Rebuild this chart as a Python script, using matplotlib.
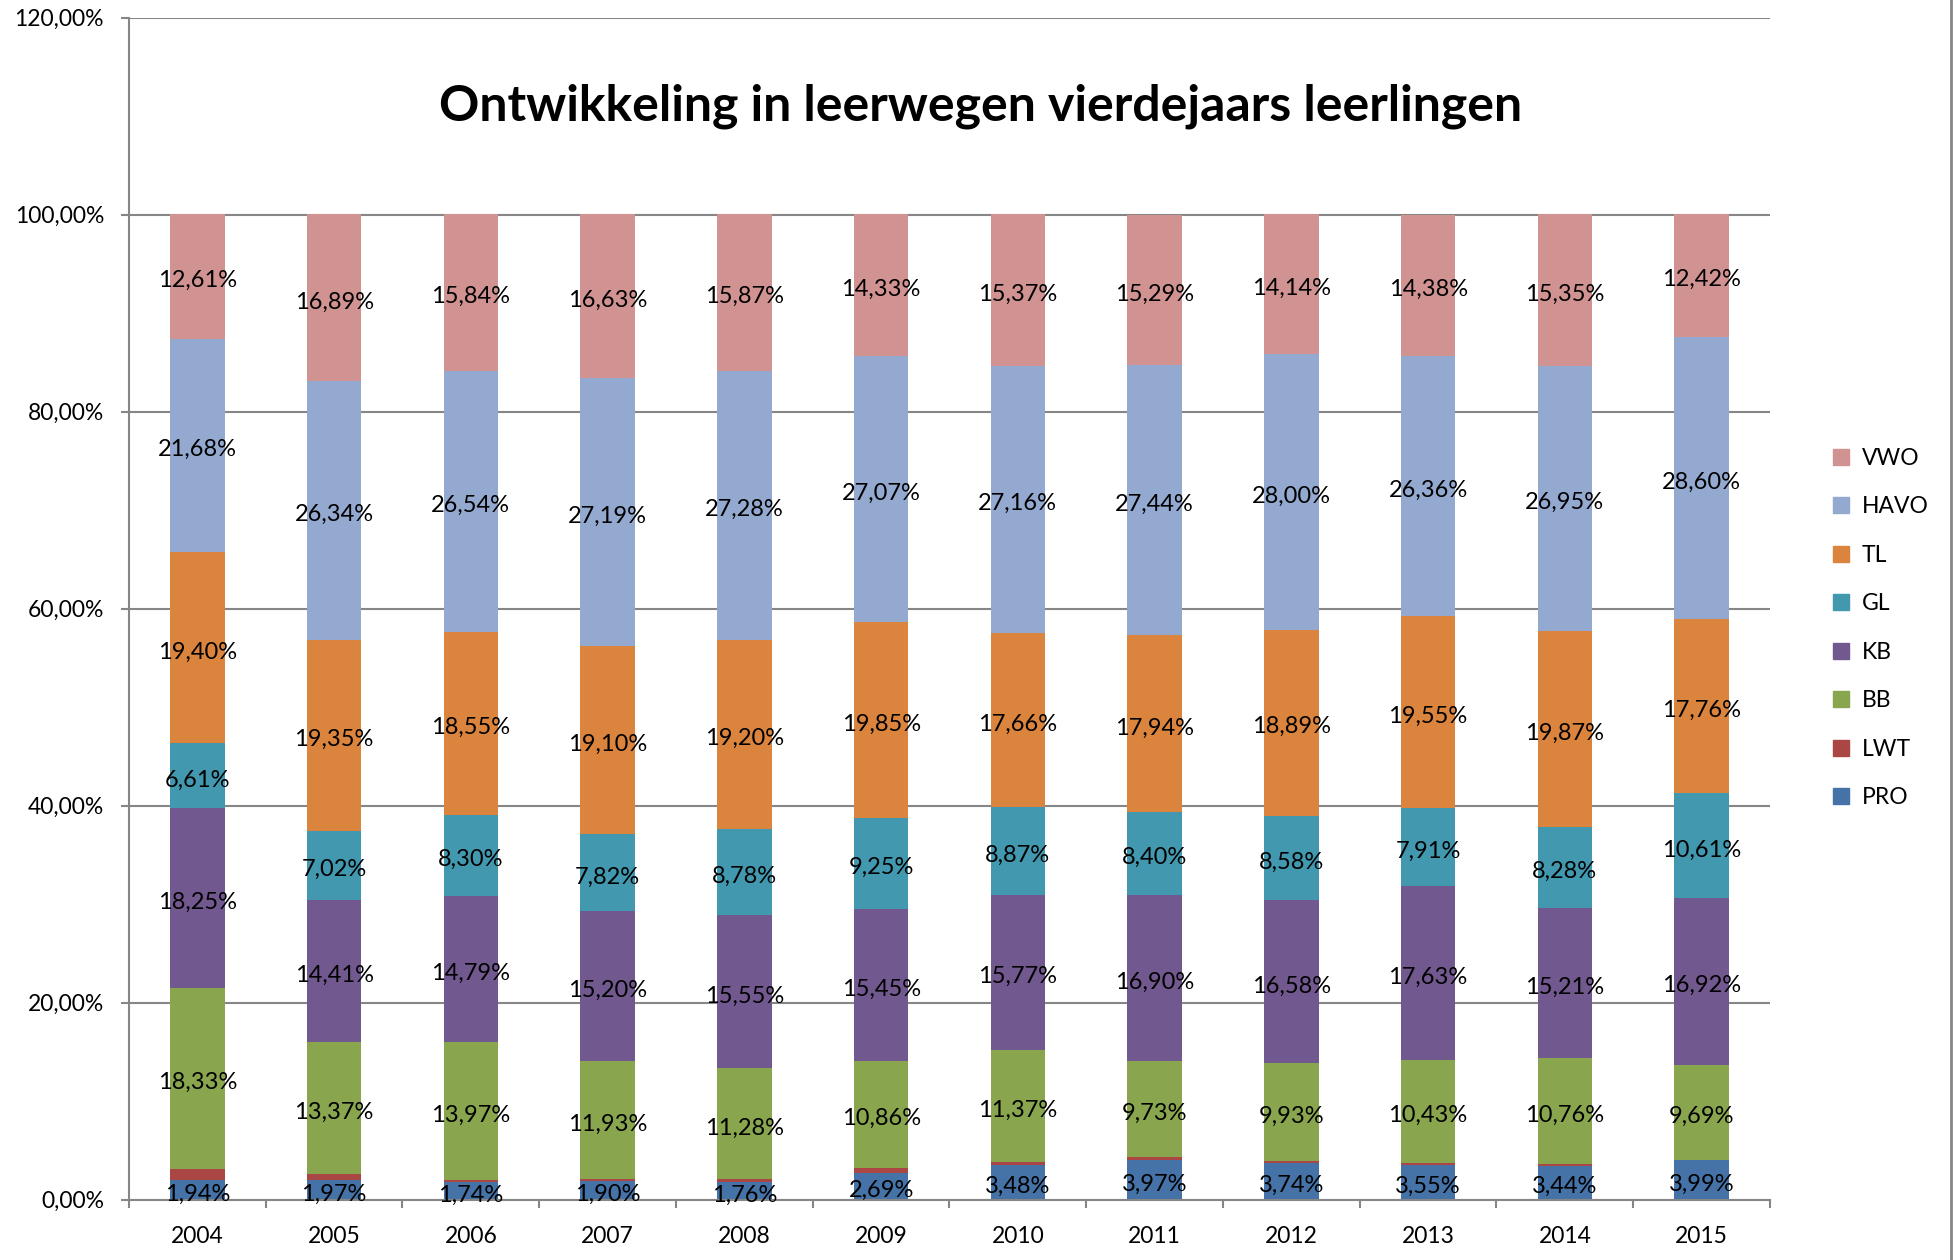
import matplotlib
matplotlib.use("Agg")
import matplotlib.pyplot as plt
import matplotlib.transforms as mtransforms
import numpy as np
from matplotlib.lines import Line2D

years = ["2004", "2005", "2006", "2007", "2008", "2009", "2010", "2011", "2012", "2013", "2014", "2015"]

# series values in percent (bottom to top)
PRO = [1.94, 1.97, 1.74, 1.90, 1.76, 2.69, 3.48, 3.97, 3.74, 3.55, 3.44, 3.99]
LWT = [1.18, 0.65, 0.27, 0.23, 0.28, 0.50, 0.32, 0.33, 0.14, 0.19, 0.14, 0.01]
BB = [18.33, 13.37, 13.97, 11.93, 11.28, 10.86, 11.37, 9.73, 9.93, 10.43, 10.76, 9.69]
KB = [18.25, 14.41, 14.79, 15.20, 15.55, 15.45, 15.77, 16.90, 16.58, 17.63, 15.21, 16.92]
GL = [6.61, 7.02, 8.30, 7.82, 8.78, 9.25, 8.87, 8.40, 8.58, 7.91, 8.28, 10.61]
TL = [19.40, 19.35, 18.55, 19.10, 19.20, 19.85, 17.66, 17.94, 18.89, 19.55, 19.87, 17.76]
HAVO = [21.68, 26.34, 26.54, 27.19, 27.28, 27.07, 27.16, 27.44, 28.00, 26.36, 26.95, 28.60]
VWO = [12.61, 16.89, 15.84, 16.63, 15.87, 14.33, 15.37, 15.29, 14.14, 14.38, 15.35, 12.42]

series_names = ["PRO", "LWT", "BB", "KB", "GL", "TL", "HAVO", "VWO"]
series_values = [PRO, LWT, BB, KB, GL, TL, HAVO, VWO]
series_colors = ["#4572A7", "#AA4643", "#89A54E", "#71588F", "#4198AF", "#DB843D", "#93A9CF", "#D19392"]
labelled = [True, False, True, True, True, True, True, True]

yticks = [0, 20, 40, 60, 80, 100, 120]
ytick_labels = ["0,00%", "20,00%", "40,00%", "60,00%", "80,00%", "100,00%", "120,00%"]

title = "Ontwikkeling in leerwegen vierdejaars leerlingen"

plt.rcParams["font.family"] = ["Lato", "DejaVu Sans"]

fig = plt.figure(figsize=(19.53, 12.6), dpi=100)
ax = fig.add_axes([129 / 1953, 1 - 1199.5 / 1260, (1770 - 129) / 1953, (1199.5 - 17.5) / 1260])

label_tr = ax.transData + mtransforms.ScaledTranslation(0, -3 / 72, fig.dpi_scale_trans)

x = np.arange(len(years))
bottom = np.zeros(len(years))
for name, vals, col, lab in zip(series_names, series_values, series_colors, labelled):
    v = np.array(vals)
    ax.bar(x, v, width=0.40, bottom=bottom, color=col, edgecolor="none", zorder=3)
    if lab:
        for xi, b, vi in zip(x, bottom, v):
            ax.text(xi, b + vi / 2, f"{vi:.2f}%".replace(".", ","), ha="center", va="center",
                    fontsize=17, color="black", zorder=5, transform=label_tr)
    bottom = bottom + v

ax.set_xlim(-0.5, len(years) - 0.5)
ax.set_ylim(0, 120)
ax.set_yticks(yticks)
ax.set_yticklabels(ytick_labels, fontsize=16.5)
ax.set_xticks(x)
ax.set_xticklabels(years, fontsize=16.5)
ax.set_xticks(np.arange(-0.5, len(years)), minor=True)
ax.tick_params(axis="x", which="major", length=0, pad=19)
ax.tick_params(axis="x", which="minor", length=6, width=1.5, color="#868686", direction="out")
ax.tick_params(axis="y", which="major", length=6, width=1.5, color="#868686", direction="out", pad=12)

ax.yaxis.grid(True, color="#868686", linewidth=1.5, zorder=0)
ax.set_axisbelow(True)
for s in ["top", "right"]:
    ax.spines[s].set_visible(False)
for s in ["left", "bottom"]:
    ax.spines[s].set_color("#868686")
    ax.spines[s].set_linewidth(1.5)
    ax.spines[s].set_zorder(4)

fig.text(0.502, 1 - 106 / 1260, title, ha="center", va="center", fontsize=36, fontweight="bold")

# legend (top to bottom: VWO ... PRO)
leg_handles = [Line2D([0], [0], marker="s", linestyle="none", markersize=11,
                      markerfacecolor=c, markeredgecolor=c) for c in series_colors[::-1]]
fig.legend(leg_handles, series_names[::-1], loc="center left",
           bbox_to_anchor=(1822 / 1953, 1 - 628 / 1260), frameon=False,
           fontsize=16.5, labelspacing=1.2, handlelength=0.9, handletextpad=0.45,
           borderaxespad=0)

# right border of chart area
fig.add_artist(Line2D([1951 / 1953, 1951 / 1953], [0, 1], color="#868686", linewidth=2,
                      transform=fig.transFigure))

fig.savefig("out.png", dpi=100)
